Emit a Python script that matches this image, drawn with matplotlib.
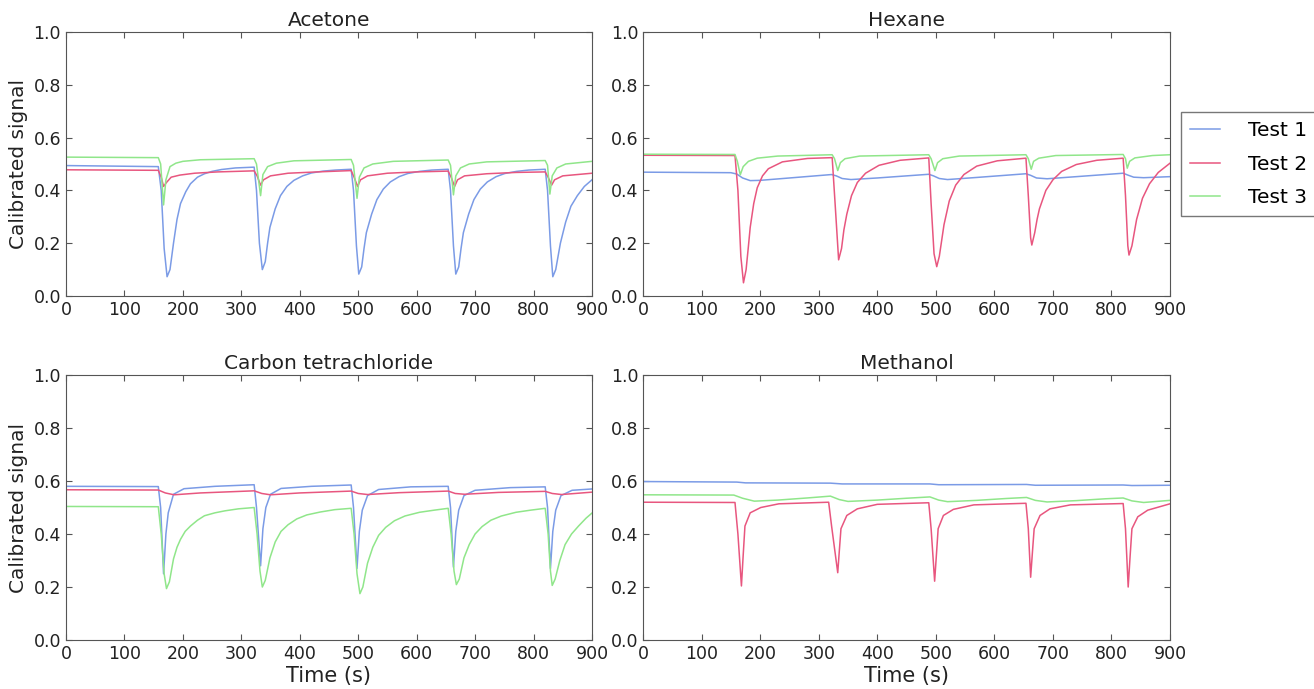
import matplotlib
matplotlib.use("Agg")
import matplotlib.pyplot as plt

#%% Data (time in s, calibrated signal)

titles = ["Acetone", "Hexane", "Carbon tetrachloride", "Methanol"]
labels = ["Test 1", "Test 2", "Test 3"]

# Acetone
ace_t1_t = [0, 158, 163, 168, 173, 178, 184, 190, 196, 205, 213, 225, 237, 250, 266, 290, 322,
            326, 331, 336, 341, 345, 349, 358, 367, 378, 390, 405, 420, 440, 461, 488,
            492, 497, 501, 506, 510, 514, 523, 532, 543, 555, 570, 585, 605, 626, 654,
            658, 663, 667, 672, 676, 680, 689, 698, 709, 721, 736, 751, 771, 792, 820,
            824, 829, 833, 838, 842, 846, 855, 864, 875, 887, 900]
ace_t1_y = [0.494, 0.490, 0.40, 0.18, 0.073, 0.10, 0.20, 0.29, 0.35, 0.395, 0.425, 0.450, 0.463, 0.472, 0.479, 0.485, 0.488,
            0.40, 0.20, 0.10, 0.13, 0.20, 0.26, 0.33, 0.38, 0.415, 0.438, 0.455, 0.466, 0.473, 0.477, 0.480,
            0.40, 0.19, 0.083, 0.11, 0.18, 0.24, 0.31, 0.365, 0.405, 0.432, 0.452, 0.464, 0.472, 0.477, 0.480,
            0.40, 0.19, 0.083, 0.11, 0.18, 0.24, 0.31, 0.365, 0.405, 0.432, 0.452, 0.464, 0.472, 0.477, 0.480,
            0.40, 0.19, 0.073, 0.10, 0.15, 0.20, 0.28, 0.34, 0.38, 0.415, 0.440]
ace_t2_t = [0, 158, 163, 167, 172, 180, 195, 220, 260, 322, 327, 333, 338, 350, 380, 430, 488,
            493, 499, 504, 516, 550, 600, 654, 659, 665, 670, 682, 720, 770, 820, 825, 831, 836, 850, 900]
ace_t2_y = [0.478, 0.476, 0.45, 0.415, 0.43, 0.45, 0.458, 0.465, 0.47, 0.474, 0.455, 0.42, 0.44, 0.455, 0.465, 0.47, 0.475,
            0.45, 0.415, 0.44, 0.455, 0.465, 0.47, 0.473, 0.45, 0.415, 0.44, 0.455, 0.463, 0.468, 0.47, 0.45, 0.42, 0.44, 0.455, 0.465]
ace_t3_t = [0, 158, 162, 167, 171, 178, 188, 200, 230, 322, 326, 333, 337, 345, 360, 390, 488,
            492, 498, 502, 510, 525, 560, 654, 658, 663, 667, 675, 690, 720, 820, 824, 828, 832, 840, 855, 900]
ace_t3_y = [0.526, 0.524, 0.50, 0.345, 0.44, 0.49, 0.503, 0.51, 0.516, 0.52, 0.50, 0.38, 0.46, 0.49, 0.503, 0.512, 0.517,
            0.495, 0.37, 0.45, 0.485, 0.50, 0.51, 0.515, 0.495, 0.383, 0.455, 0.485, 0.50, 0.508, 0.513, 0.495, 0.386, 0.455, 0.485, 0.50, 0.51]

# Hexane
hex_t1_t = [0, 150, 160, 170, 183, 200, 250, 322, 330, 340, 355, 400, 488, 496, 506, 520, 570,
            654, 662, 672, 690, 740, 820, 828, 838, 855, 900]
hex_t1_y = [0.469, 0.467, 0.462, 0.447, 0.437, 0.438, 0.447, 0.46, 0.455, 0.445, 0.441, 0.447, 0.461, 0.455, 0.445, 0.441, 0.449,
            0.463, 0.457, 0.447, 0.444, 0.452, 0.465, 0.458, 0.45, 0.448, 0.452]
hex_t2_t = [0, 157, 162, 167, 171.5, 176, 180, 183, 189, 195, 204, 214, 238, 281, 323,
            328, 334, 339, 343, 348, 356, 366, 380, 403, 439, 488,
            492, 497, 501.6, 506, 510, 514, 523, 534, 548, 570, 605, 654,
            658, 662, 664, 669, 673, 677, 688, 700, 715, 740, 775, 820,
            824, 828, 830, 835, 839, 843, 853, 865, 880, 900]
hex_t2_y = [0.533, 0.532, 0.40, 0.15, 0.05, 0.10, 0.19, 0.26, 0.35, 0.41, 0.455, 0.482, 0.508, 0.521, 0.524,
            0.35, 0.137, 0.18, 0.25, 0.31, 0.38, 0.43, 0.465, 0.495, 0.514, 0.523,
            0.35, 0.16, 0.111, 0.15, 0.21, 0.27, 0.36, 0.42, 0.46, 0.492, 0.512, 0.522,
            0.38, 0.22, 0.193, 0.24, 0.29, 0.33, 0.40, 0.44, 0.472, 0.498, 0.514, 0.522,
            0.38, 0.19, 0.155, 0.19, 0.24, 0.29, 0.37, 0.425, 0.468, 0.503]
hex_t3_t = [0, 157, 161, 166, 171, 180, 195, 230, 323, 327, 332.5, 337, 345, 370, 488, 492, 498.5, 503, 512, 540,
            654, 658, 663, 667, 676, 705, 820, 824, 827, 831, 840, 870, 900]
hex_t3_y = [0.537, 0.536, 0.51, 0.459, 0.49, 0.51, 0.522, 0.53, 0.535, 0.52, 0.475, 0.505, 0.52, 0.53, 0.535, 0.52, 0.475, 0.505, 0.52, 0.53,
            0.535, 0.52, 0.48, 0.51, 0.522, 0.532, 0.536, 0.52, 0.484, 0.51, 0.523, 0.532, 0.535]

# Carbon tetrachloride
ccl_t1_t = [0, 158, 162, 167, 171, 175, 184, 202, 255, 322, 326, 333, 337, 342, 350, 368, 420, 488,
            492, 498, 502, 507, 516, 535, 590, 654, 658, 663, 667, 672, 681, 700, 760, 820,
            824, 829, 833, 838, 847, 866, 900]
ccl_t1_y = [0.58, 0.579, 0.50, 0.25, 0.40, 0.48, 0.55, 0.571, 0.58, 0.586, 0.50, 0.28, 0.42, 0.50, 0.55, 0.572, 0.58, 0.585,
            0.50, 0.27, 0.41, 0.49, 0.545, 0.568, 0.578, 0.58, 0.50, 0.275, 0.41, 0.49, 0.545, 0.565, 0.575, 0.578,
            0.50, 0.27, 0.41, 0.49, 0.545, 0.565, 0.57]
ccl_t2_t = [0, 158, 170, 185, 230, 322, 335, 350, 400, 488, 500, 516, 570, 654, 666, 682, 740, 820, 832, 848, 900]
ccl_t2_y = [0.567, 0.566, 0.555, 0.548, 0.555, 0.563, 0.553, 0.548, 0.555, 0.562, 0.553, 0.549, 0.556,
            0.562, 0.553, 0.55, 0.557, 0.561, 0.553, 0.549, 0.558]
ccl_t3_t = [0, 158, 163, 168, 172, 177, 184, 190, 196, 204, 213, 225, 237, 255, 272, 295, 322,
            327, 332, 336, 341, 349, 358, 368, 380, 395, 412, 435, 460, 488,
            493, 498, 503, 508, 516, 525, 535, 547, 562, 580, 605, 630, 654,
            659, 664, 668, 673, 681, 690, 700, 712, 727, 745, 770, 795, 820,
            825, 829, 832, 837, 845, 854, 865, 877, 890, 900]
ccl_t3_y = [0.504, 0.503, 0.40, 0.25, 0.194, 0.22, 0.306, 0.35, 0.38, 0.41, 0.43, 0.452, 0.469, 0.48, 0.4875, 0.495, 0.50,
            0.40, 0.26, 0.20, 0.225, 0.31, 0.37, 0.41, 0.435, 0.457, 0.472, 0.483, 0.492, 0.497,
            0.40, 0.25, 0.175, 0.20, 0.29, 0.35, 0.395, 0.425, 0.45, 0.468, 0.482, 0.49, 0.497,
            0.40, 0.26, 0.209, 0.23, 0.31, 0.36, 0.40, 0.428, 0.452, 0.468, 0.482, 0.49, 0.497,
            0.40, 0.26, 0.206, 0.23, 0.30, 0.36, 0.40, 0.43, 0.46, 0.479]

# Methanol
met_t1_t = [0, 160, 175, 320, 340, 490, 505, 655, 670, 820, 835, 900]
met_t1_y = [0.598, 0.596, 0.593, 0.592, 0.589, 0.589, 0.586, 0.587, 0.584, 0.585, 0.583, 0.584]
met_t2_t = [0, 157, 162, 168, 171, 174, 183, 201, 232, 317,
            322, 332.5, 335, 338, 348, 366, 400, 488,
            492, 498, 501, 504, 513, 530, 565, 654,
            658, 662, 665, 668, 678, 695, 730, 820,
            824, 828.6, 832, 835, 845, 862, 900]
met_t2_y = [0.52, 0.519, 0.40, 0.204, 0.32, 0.43, 0.48, 0.50, 0.514, 0.52,
            0.43, 0.254, 0.33, 0.42, 0.47, 0.495, 0.512, 0.518,
            0.42, 0.222, 0.32, 0.42, 0.47, 0.493, 0.51, 0.516,
            0.42, 0.237, 0.33, 0.42, 0.47, 0.495, 0.51, 0.515,
            0.42, 0.20, 0.32, 0.42, 0.465, 0.49, 0.514]
met_t3_t = [0, 155, 170, 190, 230, 280, 320, 335, 350, 400, 450, 490, 505, 520, 570, 620,
            655, 670, 690, 740, 790, 820, 835, 855, 900]
met_t3_y = [0.548, 0.547, 0.535, 0.524, 0.528, 0.536, 0.543, 0.53, 0.523, 0.528, 0.535, 0.54, 0.528, 0.522, 0.527, 0.534,
            0.538, 0.527, 0.521, 0.526, 0.533, 0.536, 0.525, 0.519, 0.527]

panels = [
    [(ace_t1_t, ace_t1_y), (ace_t2_t, ace_t2_y), (ace_t3_t, ace_t3_y)],
    [(hex_t1_t, hex_t1_y), (hex_t2_t, hex_t2_y), (hex_t3_t, hex_t3_y)],
    [(ccl_t1_t, ccl_t1_y), (ccl_t2_t, ccl_t2_y), (ccl_t3_t, ccl_t3_y)],
    [(met_t1_t, met_t1_y), (met_t2_t, met_t2_y), (met_t3_t, met_t3_y)],
]

colors = ["#7b9be6", "#e8567f", "#90e68a"]

#%% Figure

fig = plt.figure(figsize=(13.14, 6.89), dpi=100)
boxes = [
    [0.0502, 0.5704, 0.4003, 0.3832],
    [0.4894, 0.5704, 0.4010, 0.3832],
    [0.0502, 0.0711, 0.4003, 0.3846],
    [0.4894, 0.0711, 0.4010, 0.3846],
]

lines = []
for i, (box, series) in enumerate(zip(boxes, panels)):
    ax = fig.add_axes(box)
    for (t, y), c in zip(series, colors):
        ln, = ax.plot(t, y, color=c, lw=1.1)
        if i == 0:
            lines.append(ln)
    ax.set_xlim(0, 900)
    ax.set_ylim(0, 1.0)
    ax.set_xticks(range(0, 901, 100))
    ax.set_yticks([0.0, 0.2, 0.4, 0.6, 0.8, 1.0])
    ax.set_yticklabels(["0.0", "0.2", "0.4", "0.6", "0.8", "1.0"])
    ax.tick_params(direction="in", top=True, right=True, labelsize=12.5,
                   length=4, color="#555555", labelcolor="#222222")
    for s in ax.spines.values():
        s.set_color("#555555")
    ax.set_title(titles[i], fontsize=14.5, color="#222222", pad=4)
    if i % 2 == 0:
        ax.set_ylabel("Calibrated signal", fontsize=14.5, color="#222222")
    if i >= 2:
        ax.set_xlabel("Time (s)", fontsize=15, color="#222222", labelpad=2)

fig.legend(lines, labels, loc="upper left", bbox_to_anchor=(0.8988, 0.8374),
           fontsize=14.5, frameon=True, fancybox=False, edgecolor="#555555",
           handlelength=1.5, handletextpad=1.4, borderpad=0.45, borderaxespad=0.0,
           labelspacing=0.72)

fig.savefig("out.png", dpi=100, facecolor="white")
